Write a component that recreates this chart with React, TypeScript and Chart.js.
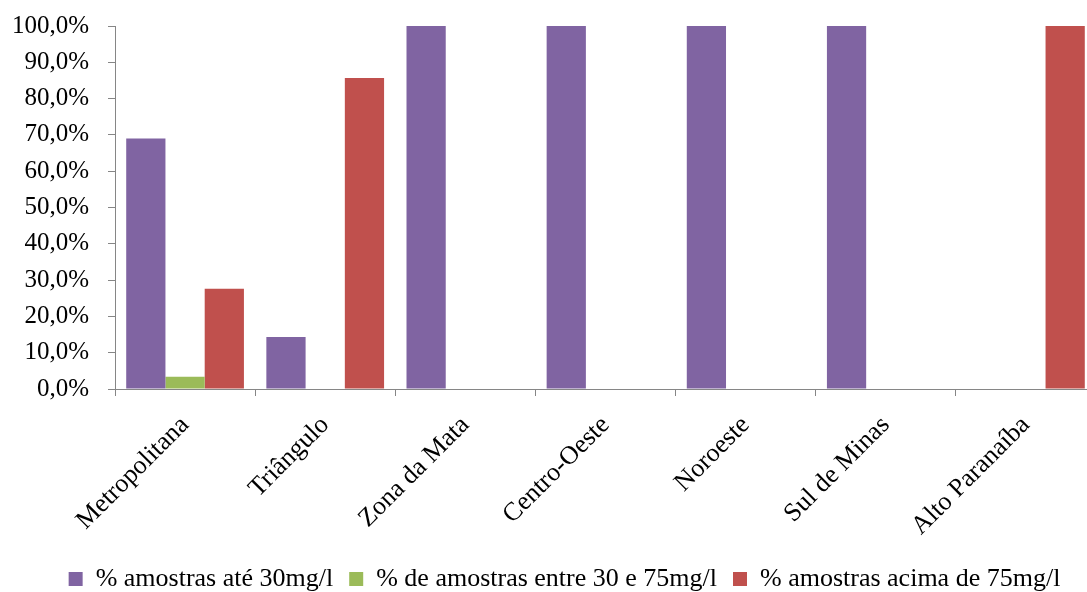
import React, { useEffect, useRef } from "react";
import { Chart, registerables } from "chart.js";

Chart.register(...registerables);

// Regiões de Minas Gerais
const categories = [
  "Metropolitana",
  "Triângulo",
  "Zona da Mata",
  "Centro-Oeste",
  "Noroeste",
  "Sul de Minas",
  "Alto Paranaíba",
];

const seriesNames = [
  "% amostras até 30mg/l",
  "% de amostras entre 30 e 75mg/l",
  "% amostras acima de 75mg/l",
];

const ate30 = [69.0, 14.3, 100, 100, 100, 100, 0];
const entre30e75 = [3.4, 0, 0, 0, 0, 0, 0];
const acima75 = [27.6, 85.7, 0, 0, 0, 0, 100];

const yTicks = [0, 10, 20, 30, 40, 50, 60, 70, 80, 90, 100];

const colors = ["#8064A2", "#9BBB59", "#C0504D"];
const axisColor = "#868686";
const fontFamily = '"Liberation Serif", "Times New Roman", serif';

const fmtPct = (v: number) => v.toFixed(1).replace(".", ",") + "%";

// Centre the legend under the region from x=33 to the plot's right edge
const legendBand = {
  id: "legendBand",
  afterLayout(chart: any) {
    if (chart.legend) chart.legend.left = 33;
  },
};

export default function App() {
  const canvasRef = useRef<HTMLCanvasElement | null>(null);

  useEffect(() => {
    const canvas = canvasRef.current;
    if (!canvas) return;
    const chart = new Chart(canvas, {
      type: "bar",
      data: {
        labels: categories,
        datasets: [ate30, entre30e75, acima75].map((values, i) => ({
          label: seriesNames[i],
          data: values,
          backgroundColor: colors[i],
          borderWidth: 0,
          categoryPercentage: 0.84,
          barPercentage: 1,
        })),
      },
      plugins: [legendBand],
      options: {
        animation: false,
        responsive: true,
        maintainAspectRatio: false,
        devicePixelRatio: 1,
        layout: { padding: { top: 26, left: 0, right: 34, bottom: 0 } },
        plugins: {
          tooltip: { enabled: false },
          legend: {
            position: "bottom",
            labels: {
              boxWidth: 14,
              boxHeight: 14,
              padding: 16,
              color: "#000",
              font: { family: fontFamily, size: 26 },
            },
          },
        },
        scales: {
          x: {
            offset: true,
            grid: {
              offset: true,
              drawOnChartArea: false,
              drawTicks: true,
              tickLength: 7,
              color: axisColor,
            },
            border: { color: axisColor, width: 1 },
            ticks: {
              autoSkip: false,
              minRotation: 45,
              maxRotation: 45,
              padding: 14,
              color: "#000",
              font: { family: fontFamily, size: 26 },
            },
            afterFit: (scale: any) => {
              scale.height = 161;
            },
          },
          y: {
            min: 0,
            max: 100,
            afterBuildTicks: (scale: any) => {
              scale.ticks = yTicks.map((v) => ({ value: v }));
            },
            grid: {
              drawOnChartArea: false,
              drawTicks: true,
              tickLength: 7,
              color: axisColor,
            },
            border: { color: axisColor, width: 1 },
            ticks: {
              padding: 19,
              color: "#000",
              font: { family: fontFamily, size: 25 },
              callback: (v: any) => fmtPct(Number(v)),
            },
            afterFit: (scale: any) => {
              scale.width = 115;
              scale.paddingTop = 14;
              scale.paddingBottom = 14;
            },
          },
        },
      },
    });
    return () => chart.destroy();
  }, []);

  return (
    <div
      style={{
        position: "fixed",
        left: 0,
        top: 0,
        width: 1087,
        height: 592,
        overflow: "hidden",
        background: "#fff",
      }}
    >
      <div style={{ position: "relative", width: 1130, height: 602 }}>
        <canvas ref={canvasRef} />
      </div>
    </div>
  );
}
